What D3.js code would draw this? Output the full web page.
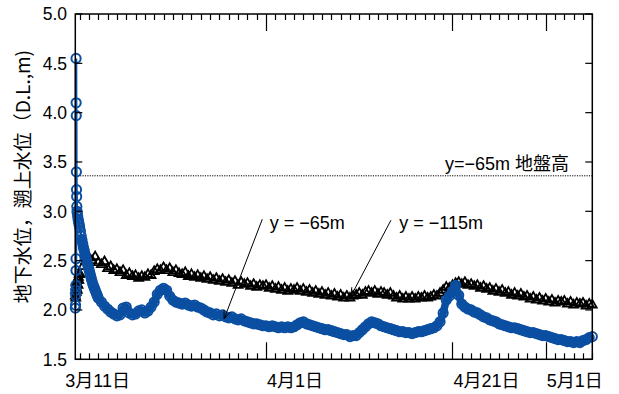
<!DOCTYPE html>
<html><head><meta charset="utf-8">
<script src="https://cdn.jsdelivr.net/npm/d3@7"></script>
<style>
html,body{margin:0;padding:0;background:#fff;}
svg{display:block;font-family:"Liberation Sans","Noto Sans CJK JP",sans-serif;}
</style></head>
<body>
<svg id="chart" width="619" height="394"></svg>
<script>
// ---- data ----
const axisStart = Date.UTC(2011, 2, 11, 12, 52);
const axisEnd = Date.UTC(2011, 4, 6, 0, 0);
const yTicks = [1.5, 2.0, 2.5, 3.0, 3.5, 4.0, 4.5, 5.0];
const dateLabelDates = [Date.UTC(2011,2,11), Date.UTC(2011,3,1), Date.UTC(2011,3,21), Date.UTC(2011,4,1)];
const dateLabels = ["3月11日", "4月1日", "4月21日", "5月1日"];
const majorTickDates = [Date.UTC(2011,3,1), Date.UTC(2011,3,21), Date.UTC(2011,4,1)];
const groundLevel = 3.36;

// y = -65m : early dense readings (hours after 3/11 00:00)
const blueEarlyHours = [13.0,13.4,13.8,14.1,14.4,14.6,14.7,14.8,15.0,15.3,15.6,16.0,16.4,16.8,17.3,18,19,20,21,22,23,24,26,28,30,32,34,36,38,40,42,44,46,48,50,52,54,56,58,60,62,64,66,68,70];
const blueEarlyValues = [2.02,2.05,2.15,2.20,2.25,2.40,2.52,4.55,4.10,3.97,3.40,3.22,3.15,3.05,3.00,2.98,2.95,2.92,2.90,2.88,2.86,2.84,2.80,2.75,2.71,2.67,2.63,2.60,2.56,2.53,2.50,2.47,2.44,2.41,2.38,2.35,2.32,2.29,2.26,2.24,2.22,2.20,2.18,2.16,2.14];
// y = -65m : every 8 hours from 3/14 00:00
const blueStart = Date.UTC(2011, 2, 14, 0, 0);
const blueValues = [
 2.12,2.08,2.04, 2.01,1.98,1.96, 1.94,1.95,2.02, 2.03,1.97,1.95, 1.96,1.99,2.00,
 1.97,1.99,2.03, 2.08,2.16,2.20, 2.22,2.20,2.14, 2.10,2.08,2.07, 2.06,2.07,2.05,
 2.04,2.05,2.03, 2.02,2.00,1.98, 1.97,1.95,1.96, 1.94,1.95,1.93, 1.92,1.93,1.91,
 1.90,1.91,1.89, 1.88,1.87,1.86, 1.86,1.85,1.84, 1.84,1.83,1.84, 1.83,1.82,1.83,
 1.82,1.83,1.82, 1.83,1.85,1.87, 1.88,1.86,1.85, 1.84,1.83,1.82, 1.81,1.80,1.80,
 1.79,1.78,1.77, 1.76,1.75,1.75, 1.73,1.74,1.74, 1.77,1.80,1.83, 1.86,1.88,1.87,
 1.86,1.84,1.83, 1.82,1.81,1.80, 1.79,1.78,1.78, 1.77,1.77,1.76, 1.77,1.78,1.78,
 1.79,1.80,1.81, 1.82,1.84,1.88, 1.97,2.10,2.14, 2.19,2.25,2.15, 2.06,2.03,2.01,
 2.00,1.98,1.97, 1.95,1.93,1.92, 1.90,1.89,1.88, 1.86,1.85,1.84, 1.83,1.82,1.82,
 1.81,1.80,1.79, 1.78,1.77,1.77, 1.76,1.75,1.74, 1.74,1.73,1.72, 1.71,1.70,1.70,
 1.69,1.68,1.68, 1.67,1.68,1.67, 1.69,1.70,1.72, 1.73];

// y = -115m : early readings (hours after 3/11 00:00)
const blackEarlyHours = [13.0,13.5,14.0,14.5,15.0,15.5,16,17,18,19,20,21,22,23];
const blackEarlyValues = [2.14,2.20,2.12,2.24,2.28,2.18,2.22,2.27,2.20,2.30,2.25,2.33,2.30,2.36];
// y = -115m : every 8 hours from 3/12 00:00
const blackStart = Date.UTC(2011, 2, 12, 0, 0);
const blackValues = [
 2.37,2.44,2.50, 2.53,2.50,2.54, 2.48,2.46,2.49, 2.42,2.44,2.40, 2.41,2.38,2.40,
 2.35,2.37,2.34, 2.35,2.32,2.34, 2.33,2.36,2.35, 2.39,2.41,2.40, 2.43,2.40,2.42,
 2.38,2.40,2.37, 2.36,2.38,2.34, 2.36,2.33,2.35, 2.32,2.34,2.31, 2.33,2.30,2.32,
 2.29,2.31,2.28, 2.30,2.27,2.29, 2.25,2.28,2.26, 2.27,2.24,2.26, 2.23,2.25,2.24,
 2.25,2.22,2.24, 2.21,2.23,2.20, 2.22,2.19,2.21, 2.20,2.22,2.19, 2.21,2.18,2.20,
 2.17,2.19,2.16, 2.18,2.15,2.17, 2.14,2.16,2.13, 2.15,2.12,2.14, 2.12,2.14,2.15,
 2.17,2.15,2.18, 2.19,2.17,2.19, 2.16,2.18,2.17, 2.15,2.17,2.14, 2.12,2.14,2.11,
 2.13,2.11,2.13, 2.11,2.13,2.12, 2.14,2.12,2.13, 2.15,2.14,2.17, 2.20,2.23,2.22,
 2.25,2.27,2.28, 2.26,2.28,2.25, 2.26,2.24,2.25, 2.22,2.24,2.21, 2.22,2.19,2.21,
 2.18,2.20,2.17, 2.18,2.15,2.17, 2.14,2.16,2.13, 2.14,2.11,2.13, 2.10,2.12,2.09,
 2.11,2.08,2.10, 2.07,2.09,2.08, 2.09,2.06,2.08, 2.05,2.07,2.06, 2.07,2.04,2.06, 2.05];

// ---- build ----
const H = 3600 * 1000;
const day0 = Date.UTC(2011, 2, 11);
const blue = blueEarlyHours.map((h, i) => ({t: new Date(day0 + h * H), v: blueEarlyValues[i]}))
  .concat(blueValues.map((v, i) => ({t: new Date(blueStart + i * 8 * H), v})));
const black = blackEarlyHours.map((h, i) => ({t: new Date(day0 + h * H), v: blackEarlyValues[i]}))
  .concat(blackValues.map((v, i) => ({t: new Date(blackStart + i * 8 * H), v})));

const L = 75.3, R = 592.3, T = 14, B = 359.3;
const svg = d3.select("#chart");
const x = d3.scaleUtc().domain([new Date(axisStart), new Date(axisEnd)]).range([L, R]);
const y = d3.scaleLinear().domain([1.5, 5.0]).range([B, T]);

const blueColor = "#0b4fa2";

// ground level dotted line
svg.append("line").attr("x1", L).attr("x2", R).attr("y1", y(groundLevel)).attr("y2", y(groundLevel))
  .attr("stroke", "#000").attr("stroke-width", 1).attr("stroke-dasharray", "1.2,1.2");
svg.append("text").attr("x", x(new Date(Date.UTC(2011,4,3,12)))).attr("y", y(groundLevel) - 6)
  .attr("text-anchor", "end").attr("font-size", 18).text("y=−65m 地盤高");

// black triangles
const tri = d3.symbol().type(d3.symbolTriangle).size(34);
svg.append("g").selectAll("path").data(black).join("path")
  .attr("transform", d => `translate(${x(d.t)},${y(d.v)})`)
  .attr("d", tri).attr("fill", "none").attr("stroke", "#000").attr("stroke-width", 1.8);

// blue line + circles
const line = d3.line().x(d => x(d.t)).y(d => y(d.v));
const splitAt = 24;
svg.append("path").datum(blue.slice(0, splitAt))
  .attr("d", line).attr("fill", "none").attr("stroke", blueColor).attr("stroke-width", 2.5);
svg.append("path").datum(blue.slice(splitAt - 1))
  .attr("d", line).attr("fill", "none").attr("stroke", blueColor).attr("stroke-width", 7.5)
  .attr("stroke-linejoin", "round");
svg.append("g").selectAll("circle").data(blue).join("circle")
  .attr("cx", d => x(d.t)).attr("cy", d => y(d.v)).attr("r", 4.6)
  .attr("fill", "none").attr("stroke", blueColor).attr("stroke-width", 2);

// frame
svg.append("rect").attr("x", L).attr("y", T).attr("width", R - L).attr("height", B - T)
  .attr("fill", "none").attr("stroke", "#000").attr("stroke-width", 1.5);

// x ticks (daily)
const days = d3.utcDay.range(new Date(axisStart), new Date(axisEnd + 1));
const isMajor = d => majorTickDates.some(m => m === +d);
const gx = svg.append("g").attr("stroke", "#000").attr("stroke-width", 1.2);
days.forEach(d => {
  const len = isMajor(d) ? 17 : 6;
  const xx = Math.round(x(d)) + 0.5;
  gx.append("line").attr("x1", xx).attr("x2", xx).attr("y1", B).attr("y2", B - len);
  gx.append("line").attr("x1", xx).attr("x2", xx).attr("y1", T).attr("y2", T + len);
});
// x labels
svg.append("g").selectAll("text").data(dateLabels).join("text")
  .attr("x", (d, i) => i === 0 ? x(new Date(dateLabelDates[i])) - 5 : x(new Date(dateLabelDates[i])) + 1)
  .attr("y", 387).attr("font-size", 18).text(d => d);

// y ticks
const gy = svg.append("g").attr("stroke", "#000").attr("stroke-width", 1.2);
yTicks.forEach(v => {
  gy.append("line").attr("x1", L).attr("x2", L + 7).attr("y1", y(v)).attr("y2", y(v));
  gy.append("line").attr("x1", R).attr("x2", R - 7).attr("y1", y(v)).attr("y2", y(v));
});
svg.append("g").selectAll("text").data(yTicks).join("text")
  .attr("x", 67).attr("y", v => y(v)).attr("dy", "0.36em").attr("text-anchor", "end")
  .attr("font-size", 17.5).text(v => v.toFixed(1));

// y title
svg.append("text").attr("transform", `translate(30,${(T + B) / 2 - 10}) rotate(-90)`)
  .attr("text-anchor", "middle").attr("font-size", 19)
  .attr("font-family", "'Noto Sans CJK JP',sans-serif")
  .text("地下水位，遡上水位（D.L.,m)");

// annotations with arrows
function arrow(x1, y1, x2, y2) {
  const g = svg.append("g").attr("stroke", "#000").attr("stroke-width", 1).attr("fill", "none");
  g.append("line").attr("x1", x1).attr("y1", y1).attr("x2", x2).attr("y2", y2);
  const a = Math.atan2(y1 - y2, x1 - x2), hl = 9, sp = 0.38;
  [a - sp, a + sp].forEach(b => g.append("line").attr("x1", x2).attr("y1", y2)
    .attr("x2", x2 + hl * Math.cos(b)).attr("y2", y2 + hl * Math.sin(b)));
}
const ann = [
  {label: "y = −65m", tx: Date.UTC(2011,2,11) + 21.4 * 24 * H, tv: 2.82, sx: Date.UTC(2011,2,11) + 20.6 * 24 * H, sv: 2.92, ex: Date.UTC(2011,2,11) + 16.5 * 24 * H, ev: 1.91},
  {label: "y = −115m", tx: Date.UTC(2011,2,11) + 35.3 * 24 * H, tv: 2.82, sx: Date.UTC(2011,2,11) + 34.4 * 24 * H, sv: 2.91, ex: Date.UTC(2011,2,11) + 30.1 * 24 * H, ev: 2.14}
];
ann.forEach(a => {
  arrow(x(new Date(a.sx)), y(a.sv), x(new Date(a.ex)), y(a.ev));
  svg.append("text").attr("x", x(new Date(a.tx))).attr("y", y(a.tv)).attr("font-size", 18).text(a.label);
});
</script>
</body></html>
